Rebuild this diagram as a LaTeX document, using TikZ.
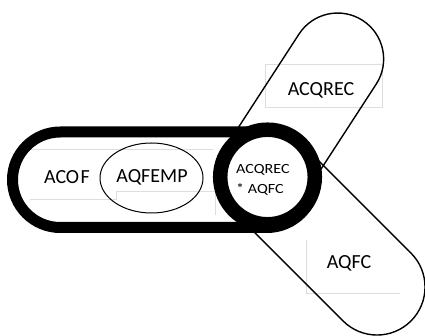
\documentclass[tikz,border=0pt]{standalone}
\usepackage{fontspec}
\setmainfont{Carlito}
\newfontfamily\cstretch[FakeStretch=1.15]{Carlito}
\begin{document}
\begin{tikzpicture}[x=1pt,y=-1pt,
  thinring/.style={draw=black,line width=1.4pt},
  boxline/.style={draw=black!13,line width=1pt},
  lbl/.style={font=\fontsize{20}{22}\selectfont,text=black,inner sep=0pt},
  smalllbl/.style={font=\cstretch\fontsize{14}{20}\selectfont,text=black,inner sep=0pt,align=left}]
\useasboundingbox (0,0) rectangle (425,336);
% faint text box borders
\draw[boxline] (30,150) -- (213,150);
\draw[boxline] (30,200) -- (116,200) -- (116,192) -- (215,192) -- (215,215);
\draw[boxline] (265,65) rectangle (382,108);
\draw[boxline] (306,240) -- (306,293) -- (400,293);
% upper diagonal stadium
\begin{scope}[shift={(267,177)},rotate=57]
  \draw[thinring] (0,-51) -- (137.4,-51) arc(-90:90:46) -- (0,41) arc(90:270:46) -- cycle;
\end{scope}
% lower diagonal stadium
\begin{scope}[shift={(267,177)},rotate=-45]
  \draw[thinring] (0,-48) -- (155.6,-48) arc(-90:90:48) -- (0,48) arc(90:270:48) -- cycle;
\end{scope}
% thick horizontal stadium
\draw[line width=11pt] (60.25,132) -- (267,132) arc(-90:90:47.75) -- (60.25,227.5) arc(90:270:47.75) -- cycle;
% inner ellipse
\draw[line width=1pt] (151.5,178) ellipse [x radius=51.5, y radius=35];
% thick circle
\draw[line width=14.5pt,fill=white] (267.5,177) circle [radius=47.3];
% labels
\node[lbl] (acof) at (67,177) {ACO\kern1.5pt F};
\node[lbl] (aqfemp) at (152,177) {AQFEMP};
\node[lbl] (acqrec) at (321,90) {ACQREC};
\node[lbl] (aqfc) at (349,263) {AQFC};
\node[smalllbl,anchor=north west] (both) at (236,164) {ACQREC\\* AQFC};
\end{tikzpicture}
\end{document}
